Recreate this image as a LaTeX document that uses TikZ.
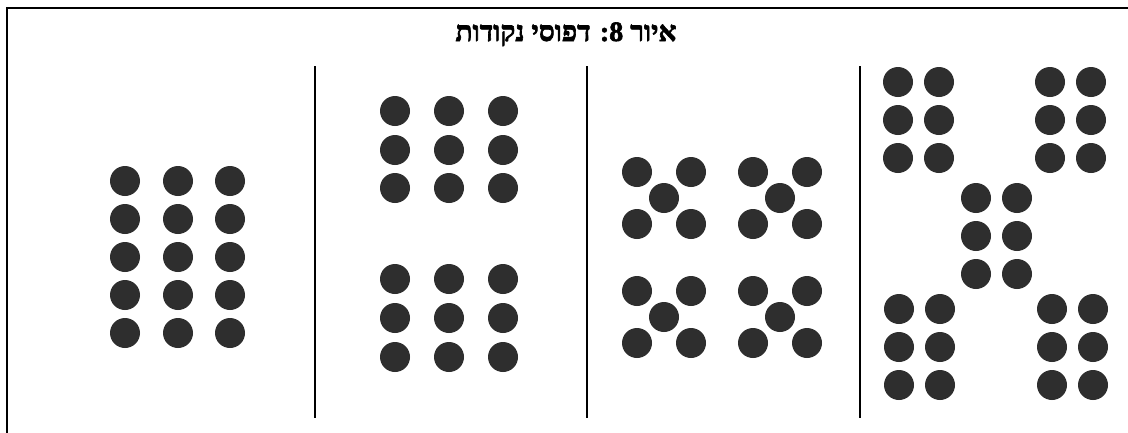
\documentclass[tikz,border=0pt]{standalone}
\usepackage{fontspec}
\TeXXeTstate=1
\newfontfamily\hebfont[Script=Hebrew,BoldFeatures={FakeBold=2.2}]{Liberation Serif}
\begin{document}
\begin{tikzpicture}[x=1pt,y=-1pt,
  dotc/.style={fill=black!82},
  frameline/.style={line width=1.6pt,black},
  divider/.style={line width=2.4pt,black}]
\useasboundingbox (0,0) rectangle (1128,432);
\fill[white] (0,0) rectangle (1128,432);
% frame
\coordinate (fbl) at (7,433);
\coordinate (ftl) at (7,8);
\coordinate (ftr) at (1129,8);
\draw[frameline] (fbl) -- (ftl) -- (ftr);
% title
\node[font=\hebfont\bfseries\fontsize{28}{32}\selectfont, inner sep=0pt, anchor=base] (title) at (566,41) {\beginR איור 8: דפוסי נקודות\endR};
% dividers
\foreach \x/\n in {315/a,587/b,860/c}{
  \coordinate (d\n t) at (\x,66);
  \coordinate (d\n b) at (\x,418);
  \draw[divider] (d\n t) -- (d\n b);
}
\def\r{15}
% panel 1: 3x5 grid
\foreach \x in {125,178,230}{
  \foreach \y in {181,219,257,295,333}{
    \fill[dotc] (\x,\y) circle (\r);
  }
}
% panel 2: two 3x3 grids
\foreach \x in {395,449,503}{
  \foreach \y in {111,150,188,279,318,357}{
    \fill[dotc] (\x,\y) circle (\r);
  }
}
% panel 3: four X groups
\foreach \cx/\cy in {664/198,780/198,664/317,780/317}{
  \fill[dotc] (\cx,\cy) circle (\r);
  \foreach \dx/\dy in {-27/-26,27/-26,-27/26,27/26}{
    \fill[dotc] (\cx+\dx,\cy+\dy) circle (\r);
  }
}
% panel 4: five 2x3 groups
\foreach \x/\y in {898/82,1050/82,976/198,899/309,1052/309}{
  \foreach \dx in {0,41}{
    \foreach \dy in {0,38,76}{
      \fill[dotc] (\x+\dx,\y+\dy) circle (\r);
    }
  }
}
\end{tikzpicture}
\end{document}
